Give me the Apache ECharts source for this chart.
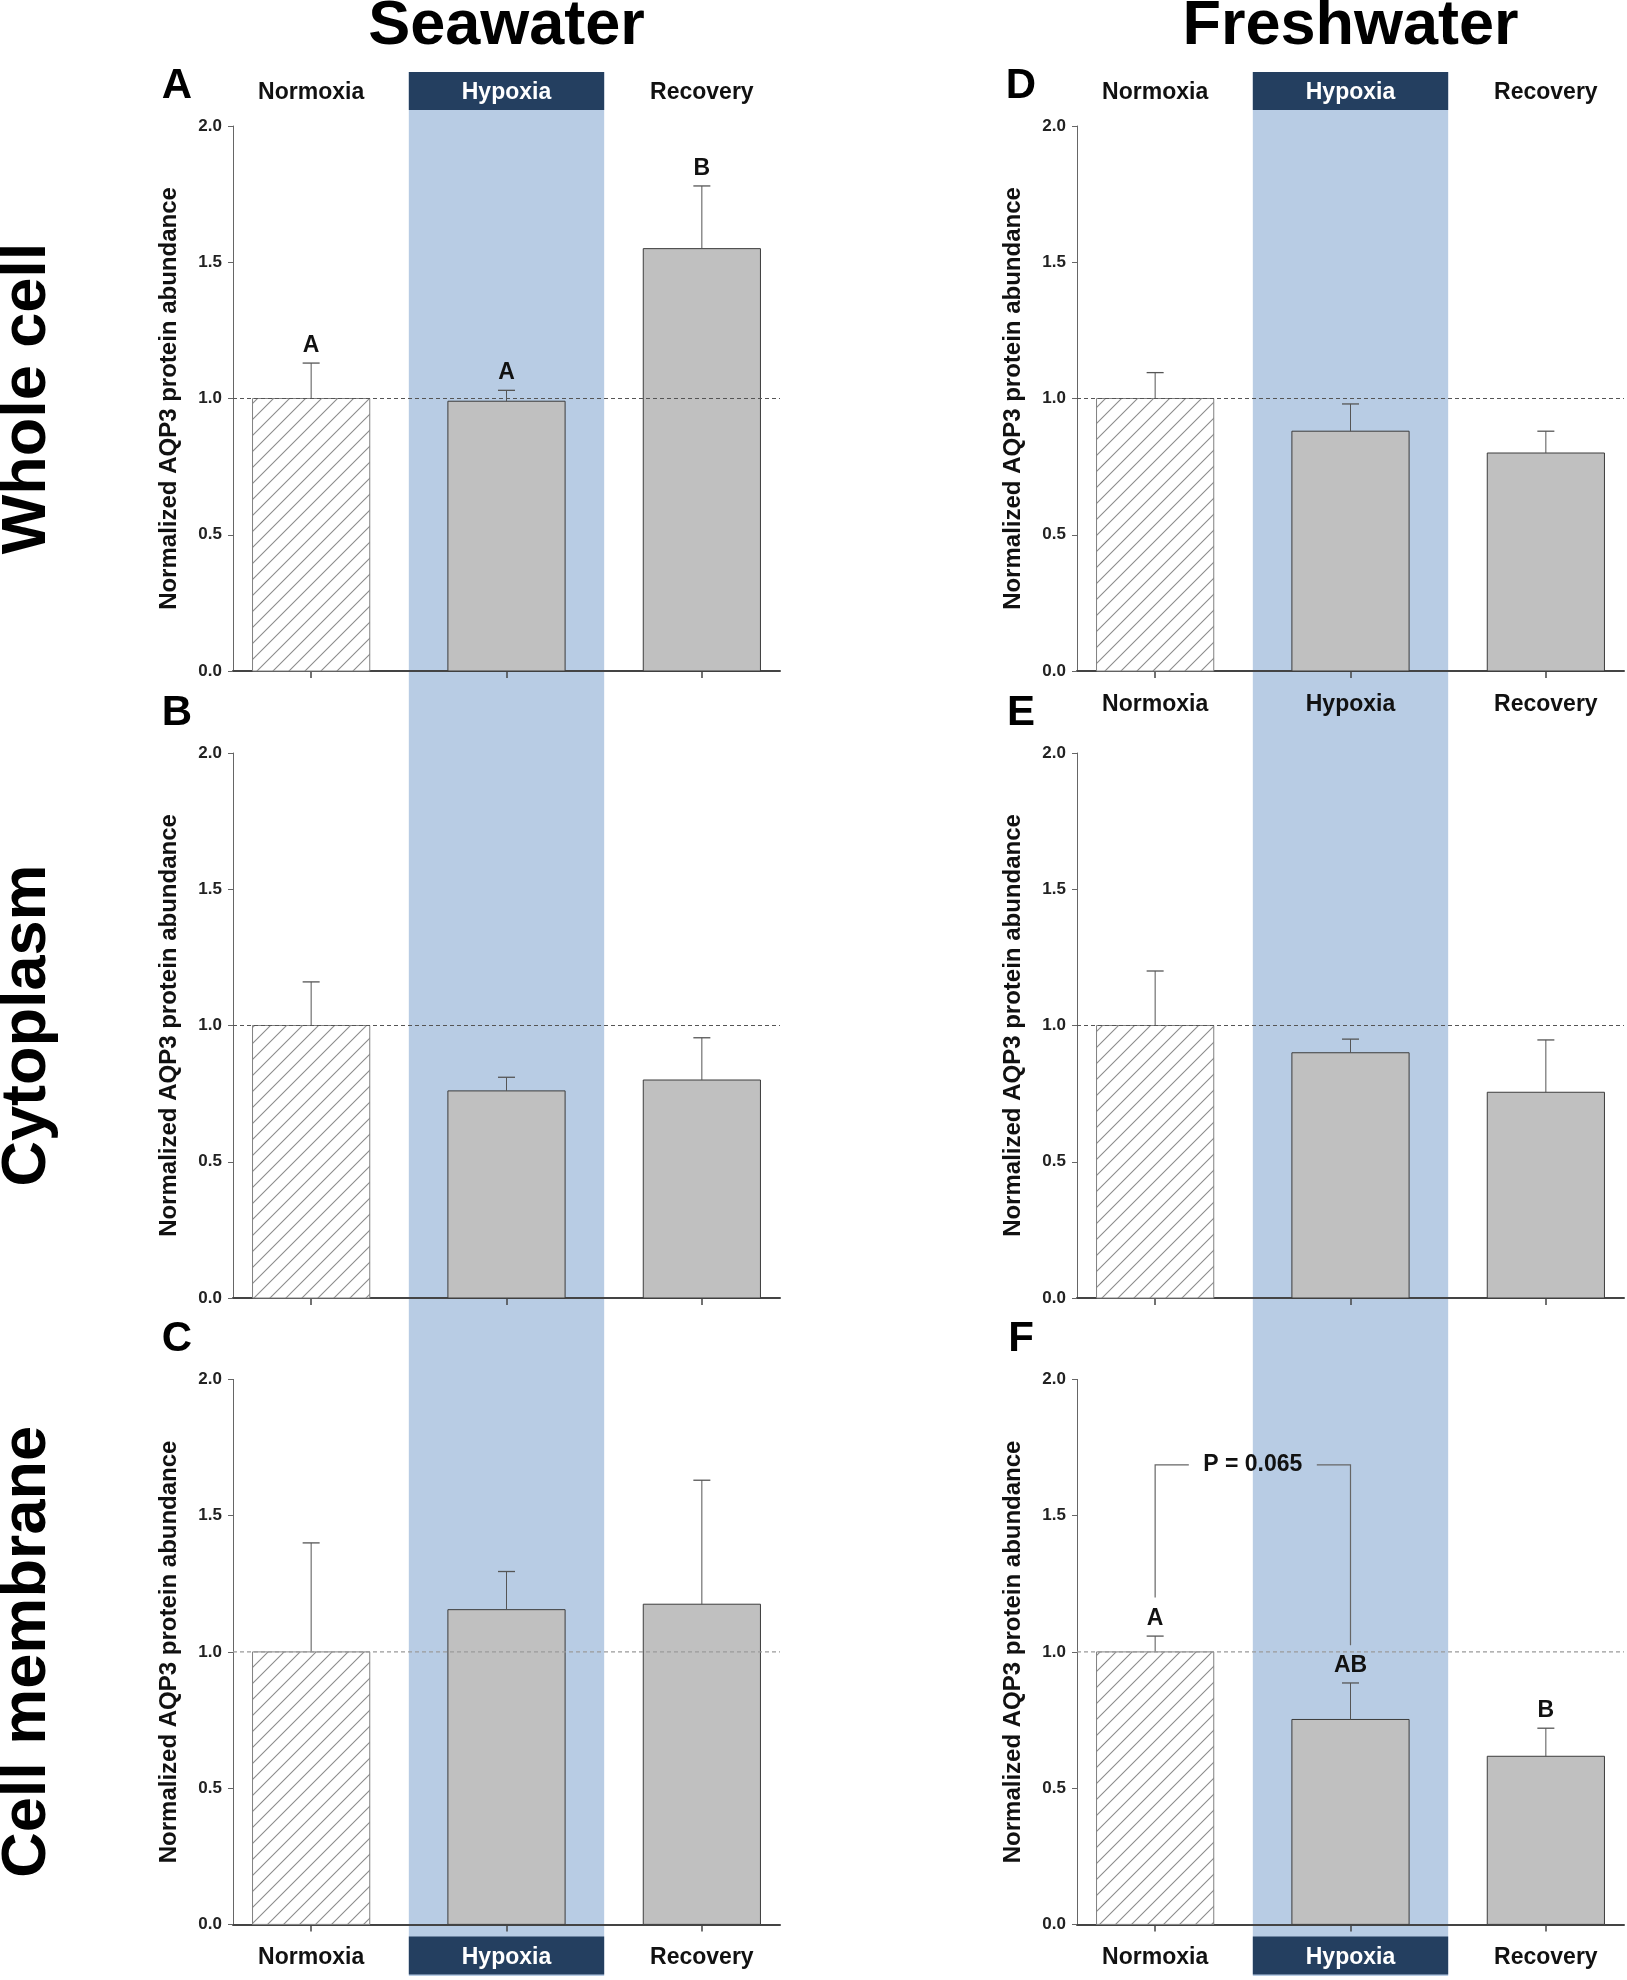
<!DOCTYPE html>
<html>
<head>
<meta charset="utf-8">
<script src="https://cdn.jsdelivr.net/npm/echarts@6/dist/echarts.min.js"></script>
<style>
  html, body { margin: 0; padding: 0; background: #ffffff; }
  #chart { width: 1627px; height: 1980px; }
</style>
</head>
<body>
<div id="chart"></div>
<script>
// ---------------- DATA ----------------
const categories = ['Normoxia', 'Hypoxia', 'Recovery'];
const hypoxiaIndex = 2;            // position of the hypoxia group on the x scale (1-based)
const refLevel = 1.0;              // normalized reference level
const columnTitles = ['Seawater', 'Freshwater'];
const rowTitles = ['Whole cell', 'Cytoplasm', 'Cell membrane'];
const panelLetters = ['A', 'B', 'C', 'D', 'E', 'F'];
const yAxisTitle = 'Normalized AQP3 protein abundance';

// Seawater
const swWholeMean = [1.00, 0.99, 1.55];
const swWholeErr  = [1.13, 1.03, 1.78];
const swWholeSig  = ['A', 'A', 'B'];
const swCytoMean  = [1.00, 0.76, 0.80];
const swCytoErr   = [1.16, 0.81, 0.955];
const swCytoSig   = ['', '', ''];
const swMemMean   = [1.00, 1.155, 1.175];
const swMemErr    = [1.40, 1.295, 1.63];
const swMemSig    = ['', '', ''];
// Freshwater
const fwWholeMean = [1.00, 0.88, 0.80];
const fwWholeErr  = [1.095, 0.98, 0.88];
const fwWholeSig  = ['', '', ''];
const fwCytoMean  = [1.00, 0.90, 0.755];
const fwCytoErr   = [1.20, 0.95, 0.947];
const fwCytoSig   = ['', '', ''];
const fwMemMean   = [1.00, 0.752, 0.617];
const fwMemErr    = [1.058, 0.886, 0.72];
const fwMemSig    = ['A', 'AB', 'B'];
// Bracket annotation in panel F
const bracketF = { from: 1, to: 2, top: 1.686, fromFoot: 1.20, toFoot: 1.024, label: 'P = 0.065' };

// ---------------- LAYOUT / STYLE ----------------
const FONT = '"Liberation Sans", Arial, Helvetica, sans-serif';
const X_MIN = 0.6, X_MAX = 3.4, BAR_HALF = 0.3;
const colLeft = [233, 1077];
const rowTop = [126, 753, 1379.4];
const GRID_W = 547, GRID_H = 545;
const BAND_COLOR = '#b8cce4';
const NAVY = '#243f60';
const unitPx = GRID_W / (X_MAX - X_MIN);

const panels = [
  { col: 0, row: 0, mean: swWholeMean, err: swWholeErr, sig: swWholeSig },
  { col: 0, row: 1, mean: swCytoMean,  err: swCytoErr,  sig: swCytoSig },
  { col: 0, row: 2, mean: swMemMean,   err: swMemErr,   sig: swMemSig },
  { col: 1, row: 0, mean: fwWholeMean, err: fwWholeErr, sig: fwWholeSig },
  { col: 1, row: 1, mean: fwCytoMean,  err: fwCytoErr,  sig: fwCytoSig },
  { col: 1, row: 2, mean: fwMemMean,   err: fwMemErr,   sig: fwMemSig }
];

// hatch pattern
const HS = 16;
const hatch = document.createElement('canvas');
hatch.width = HS; hatch.height = HS;
(function () {
  const c = hatch.getContext('2d');
  c.fillStyle = '#ffffff'; c.fillRect(0, 0, HS, HS);
  c.strokeStyle = '#8c8c8c'; c.lineWidth = 1.1;
  c.beginPath();
  c.moveTo(0, HS); c.lineTo(HS, 0);
  c.moveTo(-2, 2); c.lineTo(2, -2);
  c.moveTo(HS - 2, HS + 2); c.lineTo(HS + 2, HS - 2);
  c.stroke();
})();

function headerLabel(boxed, margin) {
  return {
    show: true,
    customValues: [1, 2, 3],
    margin: margin,
    formatter: function (v) {
      const i = Math.round(v) - 1;
      return (boxed && i === hypoxiaIndex - 1) ? '{box|' + categories[i] + '}' : '{txt|' + categories[i] + '}';
    },
    rich: {
      box: { width: unitPx, height: 34, lineHeight: 34, padding: [4, 0, 0, 0], backgroundColor: NAVY, color: '#ffffff',
             align: 'center', fontSize: 23, fontWeight: 'bold', fontFamily: FONT },
      txt: { height: 34, lineHeight: 34, padding: [4, 0, 0, 0], color: '#111111', fontSize: 23, fontWeight: 'bold', fontFamily: FONT }
    }
  };
}

const grid = [], xAxis = [], yAxis = [], series = [];

panels.forEach(function (p, i) {
  grid.push({ left: colLeft[p.col], top: rowTop[p.row], width: GRID_W, height: GRID_H });
  xAxis.push({
    gridIndex: i, type: 'value', min: X_MIN, max: X_MAX, position: 'bottom',
    axisLine: { show: true, onZero: false, lineStyle: { color: '#444444', width: 2 } },
    axisTick: { show: true, customValues: [1, 2, 3], length: 7, lineStyle: { color: '#444444', width: 1.5 } },
    axisLabel: p.row === 2 ? headerLabel(true, 14) : { show: false },
    splitLine: { show: false }
  });
  yAxis.push({
    gridIndex: i, type: 'value', min: 0, max: 2, interval: 0.5,
    name: yAxisTitle, nameLocation: 'middle', nameGap: 52, nameRotate: 90,
    nameTextStyle: { fontSize: 24, fontWeight: 'bold', color: '#111111', fontFamily: FONT },
    axisLine: { show: true, lineStyle: { color: '#666666', width: 1 } },
    axisTick: { show: true, length: 5, lineStyle: { color: '#666666' } },
    axisLabel: { formatter: function (v) { return v.toFixed(1); }, fontSize: 17, fontWeight: 'bold',
                 color: '#222222', margin: 11, fontFamily: FONT },
    splitLine: { show: false }
  });
});

// background grids for hypoxia band (one per column)
[0, 1].forEach(function (c) {
  grid.push({ left: colLeft[c], top: 72, width: GRID_W, height: 1904 });
  xAxis.push({ gridIndex: 6 + c, type: 'value', min: X_MIN, max: X_MAX, show: false });
  yAxis.push({ gridIndex: 6 + c, type: 'value', min: 0, max: 1, show: false });
  series.push({
    type: 'custom', xAxisIndex: 6 + c, yAxisIndex: 6 + c, z: -5, silent: true, clip: false,
    data: [[hypoxiaIndex - 0.5, hypoxiaIndex + 0.5]],
    renderItem: function (params, api) {
      const a = api.coord([api.value(0), 1]);
      const b = api.coord([api.value(1), 0]);
      return { type: 'rect', shape: { x: a[0], y: a[1], width: b[0] - a[0], height: b[1] - a[1] },
               style: { fill: BAND_COLOR } };
    }
  });
});

// header axes (top) for panels A, D (boxed) and E (plain)
[[0, true, 18], [3, true, 18], [4, false, 33]].forEach(function (h) {
  xAxis.push({
    gridIndex: h[0], type: 'value', min: X_MIN, max: X_MAX, position: 'top', offset: h[2],
    axisLine: { show: false }, axisTick: { show: false }, splitLine: { show: false },
    axisLabel: headerLabel(h[1], 0)
  });
});

// bars, error bars, letters
panels.forEach(function (p, i) {
  const data = p.mean.map(function (m, k) { return [k + 1, m, p.err[k]]; });
  series.push({
    type: 'custom', xAxisIndex: i, yAxisIndex: i, z: 3, silent: true, clip: false,
    data: data,
    renderItem: function (params, api) {
      const k = params.dataIndex;
      const x = api.value(0), v = api.value(1), e = api.value(2);
      const tl = api.coord([x - BAR_HALF, v]);
      const br = api.coord([x + BAR_HALF, 0]);
      const base = api.coord([x, v]);
      const top = api.coord([x, e]);
      const hatched = (k === 0);
      const children = [
        { type: 'rect', shape: { x: tl[0], y: tl[1], width: br[0] - tl[0], height: br[1] - tl[1] },
          style: hatched ? { fill: { image: hatch, repeat: 'repeat' }, stroke: '#808080', lineWidth: 1 }
                         : { fill: '#c0c0c0', stroke: '#3c3c3c', lineWidth: 1 } },
        { type: 'line', shape: { x1: base[0], y1: base[1], x2: top[0], y2: top[1] },
          style: { stroke: '#555555', lineWidth: 1 } },
        { type: 'line', shape: { x1: top[0] - 8.5, y1: top[1], x2: top[0] + 8.5, y2: top[1] },
          style: { stroke: '#555555', lineWidth: 1.3 } }
      ];
      if (p.sig[k]) {
        children.push({ type: 'text', x: top[0], y: top[1] - 6,
          style: { text: p.sig[k], align: 'center', verticalAlign: 'bottom',
                   font: 'bold 23px ' + FONT, fill: '#111111' } });
      }
      return { type: 'group', children: children };
    }
  });
  // reference dashed line at 1.0
  series.push({
    type: 'line', xAxisIndex: i, yAxisIndex: i, z: 5, silent: true, symbol: 'none',
    data: [[X_MIN, refLevel], [X_MAX, refLevel]],
    lineStyle: { type: [4, 3], color: p.row === 2 ? '#9a9a9a' : '#555555', width: 1.2 }
  });
});

// bracket in panel F
series.push({
  type: 'custom', xAxisIndex: 5, yAxisIndex: 5, z: 4, silent: true, clip: false,
  data: [[bracketF.from, bracketF.to, bracketF.top, bracketF.fromFoot, bracketF.toFoot]],
  renderItem: function (params, api) {
    const a0 = api.coord([api.value(0), api.value(3)]);
    const a1 = api.coord([api.value(0), api.value(2)]);
    const b1 = api.coord([api.value(1), api.value(2)]);
    const b0 = api.coord([api.value(1), api.value(4)]);
    const mid = (a1[0] + b1[0]) / 2;
    const gap = 64;
    const st = { stroke: '#666666', lineWidth: 1.2, fill: null };
    return { type: 'group', children: [
      { type: 'polyline', shape: { points: [a0, a1, [mid - gap, a1[1]]] }, style: st },
      { type: 'polyline', shape: { points: [[mid + gap, b1[1]], b1, b0] }, style: st },
      { type: 'text', x: mid, y: a1[1],
        style: { text: bracketF.label, align: 'center', verticalAlign: 'middle',
                 font: 'bold 23px ' + FONT, fill: '#111111' } }
    ] };
  }
});

// text decorations
const graphic = [];
columnTitles.forEach(function (t, c) {
  graphic.push({ type: 'text', x: colLeft[c] + (hypoxiaIndex - X_MIN) * unitPx, y: 27, z: 10,
    style: { text: t, font: 'bold 63px ' + FONT, fill: '#000000', align: 'center', verticalAlign: 'middle' } });
});
rowTitles.forEach(function (t, r) {
  graphic.push({ type: 'text', x: 28, y: rowTop[r] + GRID_H / 2, rotation: Math.PI / 2, z: 10,
    style: { text: t, font: 'bold 63px ' + FONT, fill: '#000000', align: 'center', verticalAlign: 'middle' } });
});
panelLetters.forEach(function (t, i) {
  const p = panels[i];
  graphic.push({ type: 'text', x: colLeft[p.col] - 56, y: rowTop[p.row] - 39.5, z: 10,
    style: { text: t, font: 'bold 42px ' + FONT, fill: '#000000', align: 'center', verticalAlign: 'middle' } });
});

const chart = echarts.init(document.getElementById('chart'), null, { renderer: 'canvas' });
chart.setOption({
  backgroundColor: '#ffffff',
  animation: false,
  textStyle: { fontFamily: FONT },
  grid: grid, xAxis: xAxis, yAxis: yAxis, series: series, graphic: graphic
});
</script>
</body>
</html>
